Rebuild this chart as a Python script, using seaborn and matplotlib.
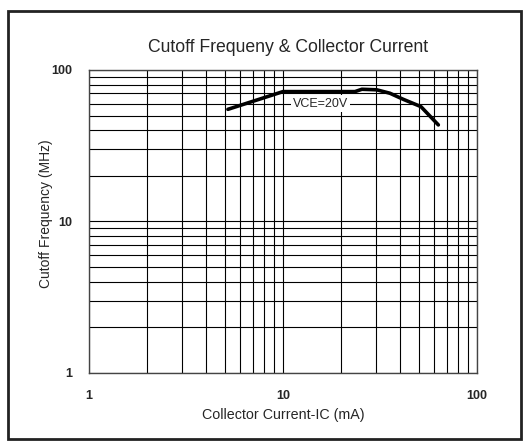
import pandas as pd
import seaborn as sns
import matplotlib.pyplot as plt
from matplotlib.patches import Rectangle

# Curve
collector_current = [5.2, 10.0, 23.5, 25.5, 30.4, 35.6, 41.6, 51.4, 63.2]
cutoff_freq = [55.0, 72.0, 72.0, 74.6, 74.0, 70.2, 64.1, 57.3, 43.4]
tick_values = [1, 10, 100]
tick_labels = ["1", "10", "100"]

df = pd.DataFrame({"ic": collector_current, "ft": cutoff_freq})

sns.set_style("white")
plt.rcParams['font.family'] = ['Liberation Sans', 'DejaVu Sans']

fig = plt.figure(figsize=(5.28, 4.41), dpi=100)
ax = fig.add_axes([0.1686, 0.1542, 0.7348, 0.6871])

sns.lineplot(data=df, x="ic", y="ft", color="black", linewidth=2.6, ax=ax)

ax.set_xscale("log")
ax.set_yscale("log")
ax.set_xlim(1, 100)
ax.set_ylim(1, 100)

ax.set_xticks(tick_values)
ax.set_xticklabels(tick_labels)
ax.set_yticks(tick_values)
ax.set_yticklabels(tick_labels)
ax.minorticks_on()
ax.tick_params(which="both", length=0)
ax.tick_params(axis="x", pad=12, labelsize=9)
ax.tick_params(axis="y", pad=12, labelsize=9)
for lab in ax.get_xticklabels() + ax.get_yticklabels():
    lab.set_fontweight("bold")
ax.xaxis.set_minor_formatter(plt.NullFormatter())
ax.yaxis.set_minor_formatter(plt.NullFormatter())

ax.grid(True, which="both", color="black", linewidth=0.8)
for s in ax.spines.values():
    s.set_color("#444444")
    s.set_linewidth(1.0)

title = ax.set_title("Cutoff Frequeny & Collector Current", fontsize=12.7, pad=12.8)
title.set_x(0.512)
ax.set_xlabel("Collector Current-IC (mA)", fontsize=10.3)
ax.set_ylabel("Cutoff Frequency (MHz)", fontsize=10)
ax.xaxis.set_label_coords(0.5, -0.115)
ax.yaxis.set_label_coords(-0.092, 0.525)

ax.text(15.6, 60, "VCE=20V", fontsize=9, ha="center", va="center",
        bbox=dict(facecolor="white", edgecolor="none", pad=1.5))

fig.patches.append(Rectangle((0.0152, 0.0045), 0.9716, 0.9705, transform=fig.transFigure,
                             fill=False, edgecolor="#222222", linewidth=2))

plt.savefig("out.png", dpi=100)
